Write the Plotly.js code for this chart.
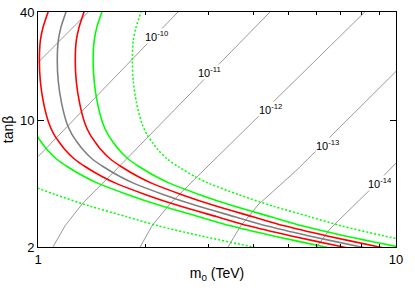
<!DOCTYPE html>
<html>
<head>
<meta charset="utf-8">
<script src="https://cdn.plot.ly/plotly-3.0.1.min.js"></script>
<style>html,body{margin:0;padding:0;background:#fff;}#chart{width:415px;height:291px;}</style>
</head>
<body>
<div id="chart"></div>
<script>
// ---- contour curves (m0 in TeV vs tan beta) ----
const tanbContour = [47.0,40.0,32.9,27.7,21.5,16.6,12.6,9.72,8.37,7.51,6.91,6.16,5.58,4.91,4.50,3.91,3.38,2.94,2.62,2.31,2.00,1.80];
const m0Central  = [1.228,1.197,1.159,1.139,1.132,1.139,1.163,1.203,1.245,1.293,1.336,1.415,1.519,1.694,1.854,2.235,2.781,3.55,4.34,5.68,7.99,10.3];
const m0RedLow   = [1.094,1.067,1.033,1.015,1.009,1.015,1.036,1.072,1.109,1.152,1.190,1.261,1.353,1.509,1.652,1.991,2.478,3.163,3.867,5.061,7.119,9.18];
const m0RedHigh  = [1.379,1.344,1.302,1.279,1.271,1.279,1.306,1.351,1.398,1.452,1.500,1.589,1.706,1.902,2.082,2.510,3.123,3.987,4.874,6.379,8.973,11.57];
const m0GreenLow = [0.975,0.950,0.920,0.904,0.899,0.904,0.923,0.955,0.989,1.027,1.061,1.124,1.206,1.345,1.472,1.775,2.208,2.819,3.446,4.510,6.344,8.18];
const m0GreenHigh= [1.547,1.508,1.460,1.435,1.426,1.435,1.465,1.516,1.569,1.629,1.683,1.783,1.914,2.134,2.336,2.816,3.504,4.473,5.468,7.157,10.20,13.2];
const m0DotLow   = [0.613,0.597,0.578,0.568,0.565,0.568,0.580,0.600,0.621,0.645,0.667,0.706,0.758,0.845,0.925,1.115,1.388,1.771,2.166,2.834,3.987,5.14];
const m0DotHigh  = [1.989,1.939,1.878,1.845,1.834,1.845,1.884,1.949,2.017,2.095,2.164,2.292,2.461,2.744,3.003,3.621,4.505,5.751,7.031,9.202,12.94,16.69];

// ---- iso-lines (thin grey) ----
const isoM0_9  = [0.950,1.000,1.452];
const isoTb_9  = [18.97,21.0,44.1];
const isoM0_10 = [0.950,1.000,2.460,2.590];
const isoTb_10 = [5.67,6.32,40.0,44.4];
const isoM0_11 = [1.073,1.101,1.190,1.336,1.620,4.446,4.680];
const isoTb_11 = [1.806,2.00,2.62,3.51,5.15,40.0,44.4];
const isoM0_12 = [1.878,1.928,2.082,2.338,2.835,8.19,8.63];
const isoTb_12 = [1.806,2.00,2.62,3.47,5.08,40.0,44.4];
const isoM0_13 = [3.308,3.395,3.667,4.117,5.290,10.0,10.53];
const isoTb_13 = [1.806,2.00,2.584,3.42,5.35,18.74,20.76];
const isoM0_14 = [5.865,6.005,6.541,8.627,10.0,10.53];
const isoTb_14 = [1.806,2.00,2.518,4.31,5.83,6.48];

const isoLabels = ['10<sup>-10</sup>','10<sup>-11</sup>','10<sup>-12</sup>','10<sup>-13</sup>','10<sup>-14</sup>'];
const isoLabelM0 = [2.149,3.02,4.45,6.42,9.02];
const isoLabelTb = [29.5,18.7,11.67,7.37,4.53];

const xTickVals = [1,10];
const xTickText = ['1','10'];
const xMinorVals = [2,3,4,5,6,7,8,9];
const yTickVals = [2,10,40];
const yTickText = ['2','10','40'];

const thinGrey = {color:'#9a9a9a', width:1};
function iso(x,y){ return {x:x,y:y,mode:'lines',line:thinGrey,hoverinfo:'skip',type:'scatter'}; }
function curve(x,color,width,dash){
  return {x:x,y:tanbContour,mode:'lines',type:'scatter',hoverinfo:'skip',
          line:{color:color,width:width,dash:dash||'solid',shape:'spline',smoothing:0.8}};
}

const traces = [
  iso(isoM0_9,isoTb_9), iso(isoM0_10,isoTb_10), iso(isoM0_11,isoTb_11),
  iso(isoM0_12,isoTb_12), iso(isoM0_13,isoTb_13), iso(isoM0_14,isoTb_14),
  curve(m0DotLow,'#00ff00',1.5,'2px,2px'),
  curve(m0DotHigh,'#00ff00',1.5,'2px,2px'),
  curve(m0GreenLow,'#00ff00',1.6),
  curve(m0GreenHigh,'#00ff00',1.6),
  curve(m0RedLow,'#ff0000',1.6),
  curve(m0RedHigh,'#ff0000',1.6),
  curve(m0Central,'#808080',1.6)
];

const annotations = isoLabels.map((t,i)=>({
  x:Math.log10(isoLabelM0[i]), y:Math.log10(isoLabelTb[i]), xref:'x', yref:'y',
  text:t, showarrow:false, bgcolor:'#ffffff', borderpad:0,
  font:{family:'Liberation Sans, Arial, sans-serif', size:11, color:'#000'}
}));

const tickFont = {family:'Liberation Sans, Arial, sans-serif', size:13, color:'#000'};
const titleFont = {family:'Liberation Sans, Arial, sans-serif', size:14, color:'#000'};
const layout = {
  width:415, height:291,
  margin:{l:38, r:19, t:12, b:44, pad:0},
  paper_bgcolor:'#fff', plot_bgcolor:'#fff',
  showlegend:false, font:tickFont,
  xaxis:{type:'log', range:[0,1], tickvals:xTickVals, ticktext:xTickText,
    ticks:'inside', ticklen:6, tickcolor:'#000', showline:true, linecolor:'#000', linewidth:1,
    mirror:'ticks', showgrid:false, zeroline:false, automargin:false,
    minor:{tickvals:xMinorVals, ticks:'inside', ticklen:3, tickcolor:'#000', showgrid:false},
    tickfont:tickFont,
    title:{text:'m<sub>0</sub> (TeV)', font:titleFont, standoff:2}},
  yaxis:{type:'log', range:[Math.log10(2),Math.log10(40)], tickvals:yTickVals, ticktext:yTickText,
    ticks:'inside', ticklen:6, tickcolor:'#000', showline:true, linecolor:'#000', linewidth:1,
    mirror:'ticks', showgrid:false, zeroline:false, automargin:false,
    tickfont:tickFont,
    title:{text:'tanβ', font:titleFont, standoff:4}},
  annotations:annotations
};
Plotly.newPlot('chart', traces, layout, {staticPlot:true, displayModeBar:false});
</script>
</body>
</html>
